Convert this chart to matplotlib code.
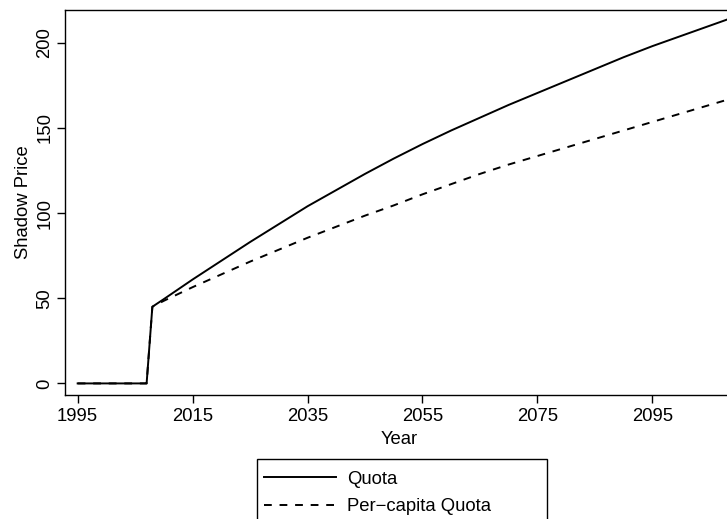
import matplotlib
matplotlib.use("Agg")
import matplotlib.pyplot as plt
from matplotlib.patches import Rectangle

plt.rcParams['font.family'] = ['Liberation Sans', 'DejaVu Sans']
plt.rcParams['font.size'] = 13.3

years = [1995, 2000, 2005, 2007, 2008, 2010, 2015, 2020, 2025, 2030, 2035, 2040,
         2045, 2050, 2055, 2060, 2065, 2070, 2075, 2080, 2085, 2090, 2095,
         2100, 2105, 2110]
quota = [0, 0, 0, 0, 45, 49.5, 61, 72, 83, 93.5, 104, 113.5,
         123, 132, 140.5, 148.5, 156, 163.5, 170.5, 177.5, 184.5, 191.5, 198,
         204, 210, 216]
percap = [0, 0, 0, 0, 45, 48.5, 56.5, 64, 71.5, 78.5, 85.5, 92,
          98.5, 104.5, 111, 117, 123, 128.5, 133.5, 138.5, 143.5, 148.5, 153.5,
          158.5, 163.5, 168.5]

xticks = [1995, 2015, 2035, 2055, 2075, 2095]
yticks = [0, 50, 100, 150, 200]

W, H = 727, 519
fig = plt.figure(figsize=(W / 100, H / 100), dpi=100)
left, right, top, bottom = 65, 734, 9.5, 395
ax = fig.add_axes([left / W, 1 - bottom / H, (right - left) / W, (bottom - top) / H])

ax.plot(years, quota, color='black', lw=1.4, label='Quota')
ax.plot(years, percap, color='black', lw=1.4, ls=(0, (4, 4)), label='Per\u2212capita Quota')

ax.set_xlim(1992.8, 2109.2)
ax.set_ylim(-6.8, 219.5)
ax.set_xticks(xticks)
ax.set_yticks(yticks)
ax.set_yticklabels([str(v) for v in yticks], rotation=90, va='center')
ax.tick_params(direction='out', length=5.5, width=1.0, color='black')
ax.tick_params(axis='x', pad=4)
ax.tick_params(axis='y', pad=3)
for s in ax.spines.values():
    s.set_linewidth(1.0)

ax.set_xlabel('Year', labelpad=4)
ax.set_ylabel('Shadow Price', labelpad=3)

# legend below the plot, frame drawn separately (R style box)
leg = fig.legend(loc='upper left', bbox_to_anchor=(258 / W, 1 - 465 / H),
                 frameon=False, handlelength=3.9, handletextpad=0.62,
                 labelspacing=0.58, borderpad=0.3, borderaxespad=0)
fig.add_artist(Rectangle((257 / W, 1 - 545 / H), 290 / W, 86 / H,
                         transform=fig.transFigure, fill=False,
                         edgecolor='black', lw=1.0))

fig.savefig('out.png', dpi=100)
